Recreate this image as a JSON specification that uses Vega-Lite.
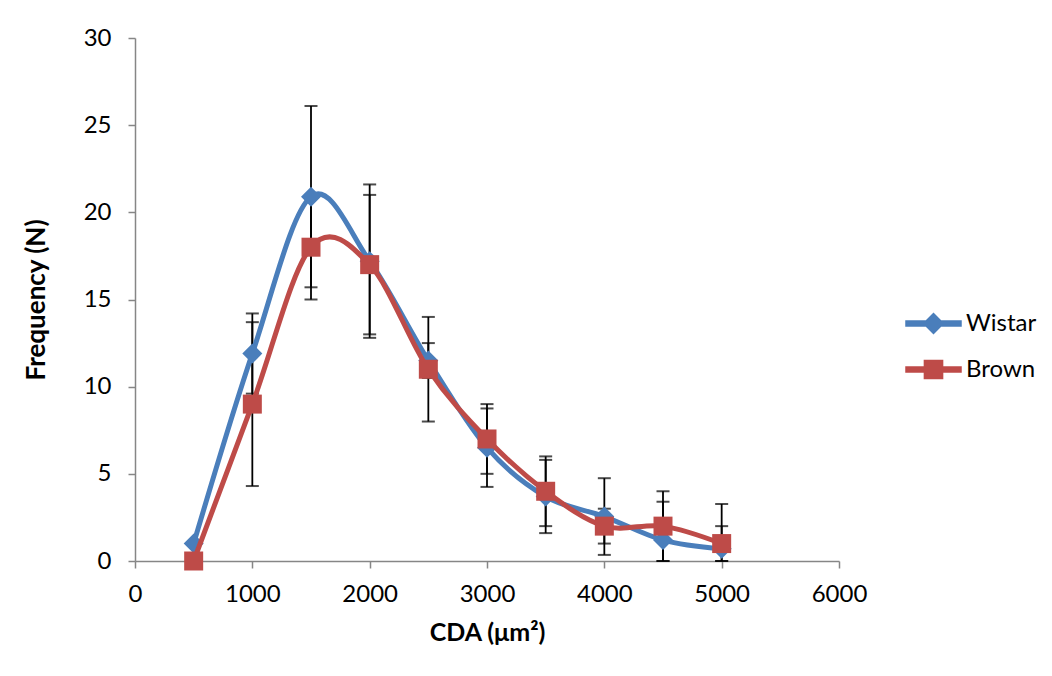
{
  "$schema": "https://vega.github.io/schema/vega-lite/v6.json",
  "width": 704,
  "height": 523,
  "autosize": {"type": "none"},
  "padding": {"left": 135, "top": 38, "right": 213, "bottom": 115},
  "background": "white",
  "config": {
    "view": {"stroke": null},
    "font": "Lato",
    "axis": {"grid": false, "domainColor": "#868686", "tickColor": "#868686", "tickSize": 7, "domainWidth": 1.5, "tickWidth": 1.5, "labelFont": "Lato", "labelFontSize": 24, "labelColor": "#000000", "titleFont": "Lato", "titleFontSize": 24, "titleFontWeight": "bold", "titleColor": "#000000"}
  },
  "data": {
    "values": [
      {"series": "Wistar", "cda": 500, "freq": 1.0, "lo": null, "hi": null},
      {"series": "Wistar", "cda": 1000, "freq": 11.9, "lo": 9.6, "hi": 14.2},
      {"series": "Wistar", "cda": 1500, "freq": 20.9, "lo": 15.7, "hi": 26.1},
      {"series": "Wistar", "cda": 2000, "freq": 17.2, "lo": 12.8, "hi": 21.6},
      {"series": "Wistar", "cda": 2500, "freq": 11.5, "lo": 10.5, "hi": 12.5},
      {"series": "Wistar", "cda": 3000, "freq": 6.5, "lo": 4.25, "hi": 8.75},
      {"series": "Wistar", "cda": 3500, "freq": 3.7, "lo": 1.6, "hi": 5.8},
      {"series": "Wistar", "cda": 4000, "freq": 2.55, "lo": 0.35, "hi": 4.75},
      {"series": "Wistar", "cda": 4500, "freq": 1.2, "lo": 0, "hi": 3.4},
      {"series": "Wistar", "cda": 5000, "freq": 0.7, "lo": 0, "hi": 3.27},
      {"series": "Brown", "cda": 500, "freq": 0, "lo": null, "hi": null},
      {"series": "Brown", "cda": 1000, "freq": 9, "lo": 4.3, "hi": 13.7},
      {"series": "Brown", "cda": 1500, "freq": 18, "lo": 15, "hi": 21},
      {"series": "Brown", "cda": 2000, "freq": 17, "lo": 13, "hi": 21},
      {"series": "Brown", "cda": 2500, "freq": 11, "lo": 8, "hi": 14},
      {"series": "Brown", "cda": 3000, "freq": 7, "lo": 5, "hi": 9},
      {"series": "Brown", "cda": 3500, "freq": 4, "lo": 2, "hi": 6},
      {"series": "Brown", "cda": 4000, "freq": 2, "lo": 1, "hi": 3},
      {"series": "Brown", "cda": 4500, "freq": 2, "lo": 0, "hi": 4},
      {"series": "Brown", "cda": 5000, "freq": 1, "lo": 0, "hi": 2}
    ]
  },
  "encoding": {
    "x": {
      "field": "cda", "type": "quantitative",
      "scale": {"domain": [0, 6000], "nice": false},
      "axis": {"values": [0, 1000, 2000, 3000, 4000, 5000, 6000], "format": "d", "labelPadding": 14, "title": "CDA (μm²)", "titleFontSize": 25, "titlePadding": 14, "labelFlush": false}
    }
  },
  "layer": [
    {
      "transform": [{"filter": "isValid(datum.lo)"}],
      "mark": {"type": "rule", "color": "#000000", "strokeWidth": 1.8},
      "encoding": {
        "y": {"field": "lo", "type": "quantitative", "scale": {"domain": [0, 30], "nice": false},
              "axis": {"values": [0, 5, 10, 15, 20, 25, 30], "title": "Frequency (N)", "titleFontSize": 26, "labelPadding": 17, "titlePadding": 34}},
        "y2": {"field": "hi"}
      }
    },
    {
      "transform": [{"filter": "isValid(datum.lo)"}],
      "mark": {"type": "tick", "orient": "horizontal", "color": "#000000", "size": 13, "thickness": 2},
      "encoding": {"y": {"field": "lo", "type": "quantitative"}}
    },
    {
      "transform": [{"filter": "isValid(datum.hi)"}],
      "mark": {"type": "tick", "orient": "horizontal", "color": "#000000", "size": 13, "thickness": 2},
      "encoding": {"y": {"field": "hi", "type": "quantitative"}}
    },
    {
      "transform": [{"filter": "datum.series === 'Wistar'"}],
      "mark": {"type": "line", "interpolate": "cardinal", "tension": 0, "strokeWidth": 5},
      "encoding": {
        "y": {"field": "freq", "type": "quantitative"},
        "color": {
          "field": "series", "type": "nominal",
          "scale": {"domain": ["Wistar", "Brown"], "range": ["#4A7EBB", "#BE4B48"]},
          "legend": {
            "title": null, "orient": "none", "legendX": 770, "legendY": 257,
            "symbolSize": 3025, "labelFont": "Lato", "labelFontSize": 24, "labelColor": "#000000",
            "labelOffset": 4, "rowPadding": 4,
            "encode": {"symbols": {"update": {
              "shape": {"signal": "datum.value === 'Wistar' ? 'M-1,-0.09 L-0.27,-0.09 L0,-0.36 L0.27,-0.09 L1,-0.09 L1,0.09 L0.27,0.09 L0,0.36 L-0.27,0.09 L-1,0.09 Z' : 'M-1,-0.09 L-0.33,-0.09 L-0.33,-0.33 L0.33,-0.33 L0.33,-0.09 L1,-0.09 L1,0.09 L0.33,0.09 L0.33,0.33 L-0.33,0.33 L-0.33,0.09 L-1,0.09 Z'"},
              "fill": {"signal": "datum.value === 'Wistar' ? '#4A7EBB' : '#BE4B48'"},
              "stroke": {"value": "transparent"},
              "opacity": {"value": 1}
            }}}
          }
        }
      }
    },
    {
      "transform": [{"filter": "datum.series === 'Wistar'"}],
      "mark": {"type": "point", "shape": "diamond", "filled": true, "opacity": 1, "size": 400, "color": "#4A7EBB"},
      "encoding": {"y": {"field": "freq", "type": "quantitative"}}
    },
    {
      "transform": [{"filter": "datum.series === 'Brown'"}],
      "mark": {"type": "line", "interpolate": "cardinal", "tension": 0, "strokeWidth": 5},
      "encoding": {
        "y": {"field": "freq", "type": "quantitative"},
        "color": {"field": "series", "type": "nominal"}
      }
    },
    {
      "transform": [{"filter": "datum.series === 'Brown'"}],
      "mark": {"type": "point", "shape": "square", "filled": true, "opacity": 1, "size": 361, "color": "#BE4B48"},
      "encoding": {"y": {"field": "freq", "type": "quantitative"}}
    }
  ]
}
